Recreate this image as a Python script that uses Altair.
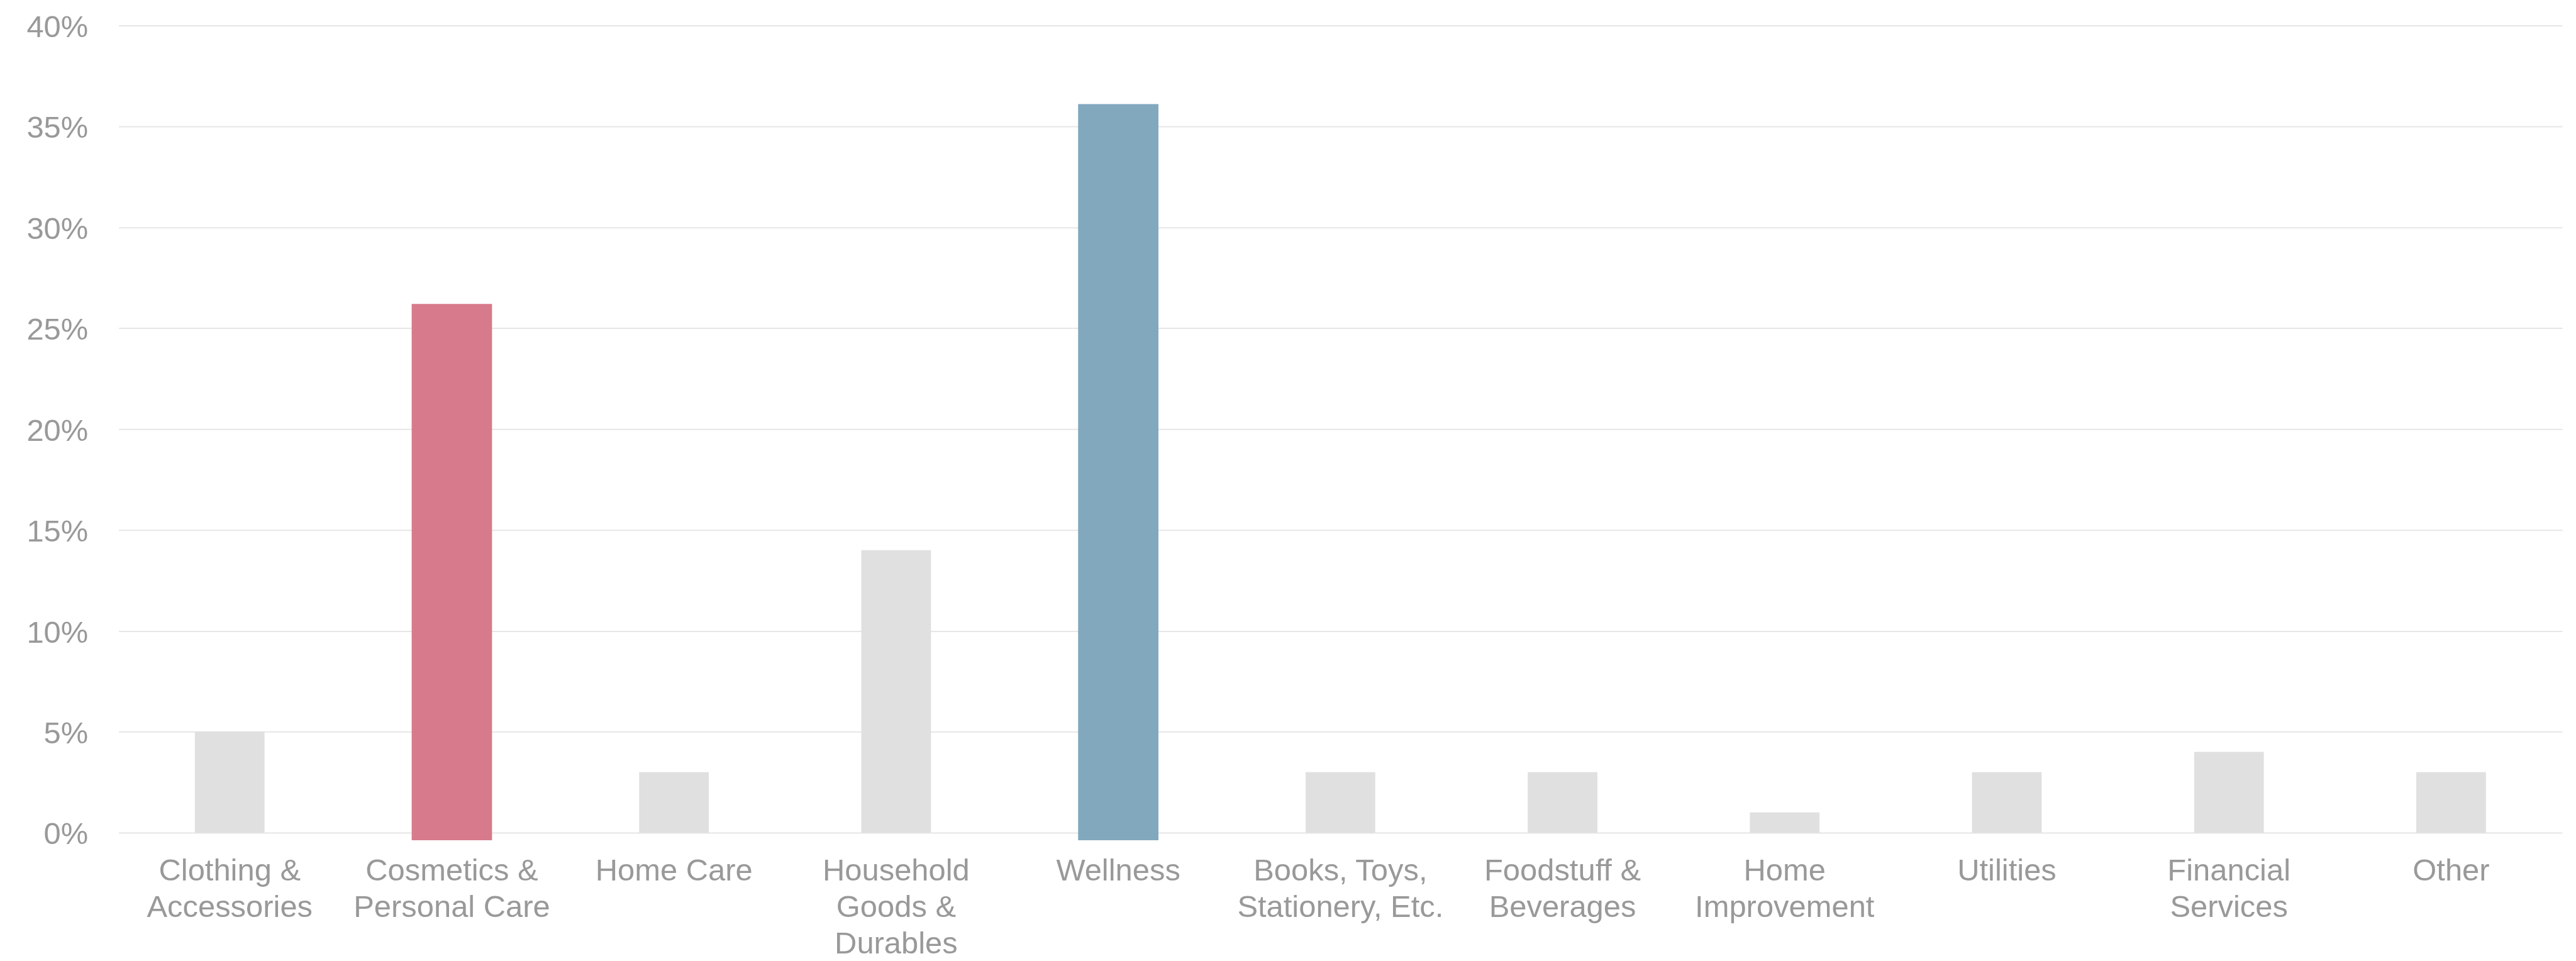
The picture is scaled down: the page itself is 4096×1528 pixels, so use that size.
import json
import altair as alt
import pandas as pd

categories = [
    "Clothing & Accessories",
    "Cosmetics & Personal Care",
    "Home Care",
    "Household Goods & Durables",
    "Wellness",
    "Books, Toys, Stationery, Etc.",
    "Foodstuff & Beverages",
    "Home Improvement",
    "Utilities",
    "Financial Services",
    "Other",
]
label_lines = [
    ["Clothing &", "Accessories"],
    ["Cosmetics &", "Personal Care"],
    ["Home Care"],
    ["Household", "Goods &", "Durables"],
    ["Wellness"],
    ["Books, Toys,", "Stationery, Etc."],
    ["Foodstuff &", "Beverages"],
    ["Home", "Improvement"],
    ["Utilities"],
    ["Financial", "Services"],
    ["Other"],
]
shares = [5, 26.2, 3, 14, 36.1, 3, 3, 1, 3, 4, 3]
highlighted = ["Cosmetics & Personal Care", "Wellness"]
highlight_colors = ["#D77A8B", "#82A8BE"]
y_ticks = [0, 5, 10, 15, 20, 25, 30, 35, 40]

df = pd.DataFrame({"category": categories, "share": shares})

# label expression: map each category to its wrapped lines
expr = "datum.value"
for cat, lines in reversed(list(zip(categories, label_lines))):
    expr = f"datum.value == {json.dumps(cat)} ? {json.dumps(lines)} : ({expr})"

FONT = "Liberation Sans"
LABEL_COLOR = "#999999"

x_enc = alt.X(
    "category:N",
    sort=categories,
    scale=alt.Scale(domain=categories, paddingInner=0, paddingOuter=0),
    axis=alt.Axis(
        title=None,
        labelAngle=0,
        labelExpr=expr,
        labelFont=FONT,
        labelFontSize=49,
        labelLineHeight=58,
        labelColor=LABEL_COLOR,
        labelPadding=37,
        labelLimit=600,
        ticks=False,
        tickSize=0,
        domain=False,
        grid=False,
    ),
)
y_enc = alt.Y(
    "share:Q",
    scale=alt.Scale(domain=[0, 40], nice=False),
    axis=alt.Axis(
        title=None,
        values=y_ticks,
        labelExpr="datum.value + '%'",
        labelFont=FONT,
        labelFontSize=49,
        labelColor=LABEL_COLOR,
        labelPadding=49,
        labelOffset=3,
        ticks=False,
        tickSize=0,
        domain=False,
        grid=True,
        gridColor="#E6E6E6",
        gridWidth=2,
    ),
)

base = alt.Chart(df)

gray = base.mark_bar(color="#E0E0E0", width=111).encode(
    x=x_enc, y=y_enc, y2=alt.datum(0)
).transform_filter(
    alt.FieldOneOfPredicate(field="category", oneOf=[c for c in categories if c not in highlighted])
)

colored = base.mark_bar(width=128, y2Offset=12).encode(
    x=x_enc,
    y=y_enc,
    y2=alt.datum(0),
    color=alt.Color(
        "category:N",
        scale=alt.Scale(domain=highlighted, range=highlight_colors),
        legend=None,
    ),
).transform_filter(alt.FieldOneOfPredicate(field="category", oneOf=highlighted))

chart = (
    alt.layer(gray, colored)
    .properties(
        width=3893,
        height=1286,
        autosize=alt.AutoSizeParams(type="none"),
        padding={"left": 181, "top": 31, "right": 14, "bottom": 202},
        background="white",
    )
    .configure_view(strokeWidth=0)
)

chart.save("out.html", embed_options={"renderer": "svg", "actions": False})
